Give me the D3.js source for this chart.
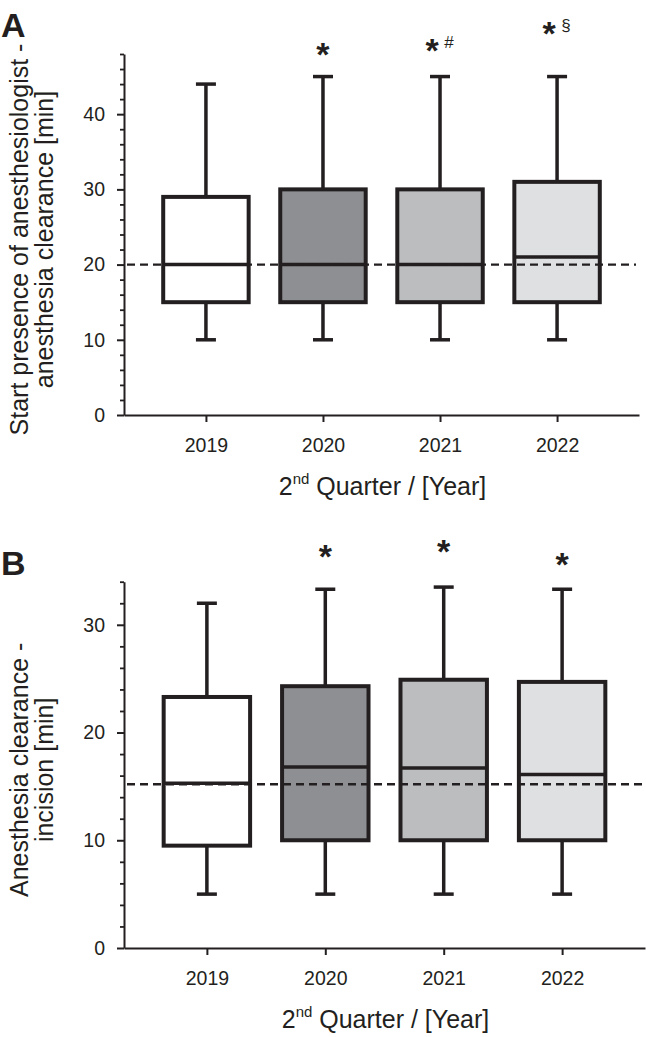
<!DOCTYPE html>
<html>
<head>
<meta charset="utf-8">
<script src="https://cdn.jsdelivr.net/npm/d3@7"></script>
<style>
  html, body { margin: 0; padding: 0; background: #ffffff; }
  svg { display: block; font-family: "Liberation Sans", Arial, Helvetica, sans-serif; }
</style>
</head>
<body>
<svg id="chart" width="646" height="1037"></svg>
<script>
// ---------- data ----------
const years = ["2019", "2020", "2021", "2022"];
const boxFills = ["#ffffff", "#8e8f92", "#bcbdbf", "#dfe0e2"];

// Panel A: start presence of anesthesiologist - anesthesia clearance [min]
const aLow    = [10, 10, 10, 10];
const aQ1     = [15, 15, 15, 15];
const aMedian = [20, 20, 20, 21];
const aQ3     = [29, 30, 30, 31];
const aHigh   = [44, 45, 45, 45];
const aRef    = 20;
const aStars  = ["", "*", "*", "*"];
const aExtra  = ["", "", "#", "§"];
const aStarY  = [null, 48.9, 49.5, 51.7];
const aTicks  = [0, 10, 20, 30, 40];
const aMax    = 48;

// Panel B: anesthesia clearance - incision [min]
const bLow    = [5, 5, 5, 5];
const bQ1     = [9.5, 10, 10, 10];
const bMedian = [15.3, 16.8, 16.7, 16.1];
const bQ3     = [23.3, 24.3, 24.9, 24.7];
const bHigh   = [32, 33.3, 33.5, 33.3];
const bRef    = 15.2;
const bStars  = ["", "*", "*", "*"];
const bExtra  = ["", "", "", ""];
const bStarY  = [null, 37.0, 37.5, 36.3];
const bTicks  = [0, 10, 20, 30];
const bMax    = 34;

const ink = "#231f20";
const svg = d3.select("#chart");

function panel(cfg) {
  const g = svg.append("g");
  const y = d3.scaleLinear().domain([0, cfg.max]).range([cfg.y0, cfg.y1]);
  const x = d3.scalePoint().domain(years).range([cfg.x0, cfg.x1]).padding(0.7);
  const step = x.step();
  const bw = step * 0.73;
  const capW = 20;

  const rows = years.map((yr, i) => ({
    yr, i, low: cfg.low[i], q1: cfg.q1[i], med: cfg.med[i], q3: cfg.q3[i], high: cfg.high[i],
    fill: boxFills[i], star: cfg.stars[i], extra: cfg.extra[i], starY: cfg.starY[i]
  }));

  // whiskers
  const wg = g.append("g").attr("stroke", ink).attr("stroke-width", 3.5);
  wg.selectAll("line.up").data(rows).join("line").attr("class", "up")
    .attr("x1", d => x(d.yr)).attr("x2", d => x(d.yr))
    .attr("y1", d => y(d.q3)).attr("y2", d => y(d.high));
  wg.selectAll("line.down").data(rows).join("line").attr("class", "down")
    .attr("x1", d => x(d.yr)).attr("x2", d => x(d.yr))
    .attr("y1", d => y(d.q1)).attr("y2", d => y(d.low));
  wg.selectAll("line.capu").data(rows).join("line").attr("class", "capu")
    .attr("x1", d => x(d.yr) - capW / 2).attr("x2", d => x(d.yr) + capW / 2)
    .attr("y1", d => y(d.high)).attr("y2", d => y(d.high));
  wg.selectAll("line.capd").data(rows).join("line").attr("class", "capd")
    .attr("x1", d => x(d.yr) - capW / 2).attr("x2", d => x(d.yr) + capW / 2)
    .attr("y1", d => y(d.low)).attr("y2", d => y(d.low));

  // boxes
  g.append("g").selectAll("rect").data(rows).join("rect")
    .attr("x", d => x(d.yr) - bw / 2).attr("width", bw)
    .attr("y", d => y(d.q3)).attr("height", d => y(d.q1) - y(d.q3))
    .attr("fill", d => d.fill).attr("stroke", ink).attr("stroke-width", 4);

  // medians
  g.append("g").selectAll("line").data(rows).join("line")
    .attr("x1", d => x(d.yr) - bw / 2).attr("x2", d => x(d.yr) + bw / 2)
    .attr("y1", d => y(d.med)).attr("y2", d => y(d.med))
    .attr("stroke", ink).attr("stroke-width", 3.5);

  // dashed reference line
  g.append("line")
    .attr("x1", cfg.x0 + 3).attr("x2", cfg.dashEnd)
    .attr("y1", y(cfg.ref)).attr("y2", y(cfg.ref))
    .attr("stroke", ink).attr("stroke-width", 2.3).attr("stroke-dasharray", "8,5");

  // y axis: minor ticks
  const minor = d3.range(0, cfg.max + 0.001, 2).filter(v => v % 10 !== 0);
  g.append("g").attr("transform", `translate(${cfg.x0},0)`)
    .call(d3.axisLeft(y).tickValues(minor).tickSize(4).tickFormat(""))
    .call(s => s.select(".domain").remove())
    .call(s => s.selectAll("line").attr("stroke", ink).attr("stroke-width", 1.8));
  // y axis: major ticks
  const ya = g.append("g").attr("transform", `translate(${cfg.x0},0)`)
    .call(d3.axisLeft(y).tickValues(cfg.ticks).tickSize(7).tickPadding(12).tickSizeOuter(0));
  ya.select(".domain").attr("stroke", ink).attr("stroke-width", 2);
  ya.selectAll("line").attr("stroke", ink).attr("stroke-width", 2);
  ya.selectAll("text").attr("font-size", 19.5).attr("fill", ink).attr("font-family", "Liberation Sans, Arial, sans-serif");

  // x axis
  const xa = g.append("g").attr("transform", `translate(0,${cfg.y0})`)
    .call(d3.axisBottom(x).tickSize(7).tickPadding(16).tickSizeOuter(0));
  xa.select(".domain").attr("stroke", ink).attr("stroke-width", 2);
  xa.selectAll("line").attr("stroke", ink).attr("stroke-width", 2);
  xa.selectAll("text").attr("font-size", 19.5).attr("fill", ink).attr("font-family", "Liberation Sans, Arial, sans-serif");

  // x axis title
  const xt = g.append("text")
    .attr("x", (cfg.x0 + cfg.x1) / 2 + 1).attr("y", cfg.y0 + 80)
    .attr("text-anchor", "middle").attr("font-size", 25).attr("fill", ink);
  xt.append("tspan").text("2");
  xt.append("tspan").attr("font-size", 15).attr("dy", -11).text("nd");
  xt.append("tspan").attr("dy", 11).text(" Quarter / [Year]");

  // y axis title (two lines)
  const cy = (cfg.y0 + cfg.y1) / 2 + 5;
  cfg.ylab.forEach((t, k) => {
    g.append("text")
      .attr("transform", `translate(${28 + k * 25},${cy}) rotate(-90)`)
      .attr("text-anchor", "middle").attr("font-size", 25).attr("fill", ink)
      .text(t);
  });

  // panel letter
  g.append("text").attr("x", 1).attr("y", cfg.letterY)
    .attr("font-size", 34).attr("font-weight", "bold").attr("fill", ink)
    .text(cfg.letter);

  // significance marks
  rows.filter(d => d.star).forEach(d => {
    const cx = x(d.yr);
    const sy = y(d.starY);
    const starX = d.extra ? cx - 8 : cx;
    g.append("text").attr("x", starX).attr("y", sy + 19)
      .attr("text-anchor", "middle").attr("font-size", 34).attr("font-weight", "bold")
      .attr("fill", ink).text(d.star);
    if (d.extra) {
      g.append("text").attr("x", cx + 9).attr("y", sy + 5)
        .attr("text-anchor", "middle").attr("font-size", 17)
        .attr("fill", ink).text(d.extra);
    }
  });
}

panel({
  low: aLow, q1: aQ1, med: aMedian, q3: aQ3, high: aHigh, ref: aRef,
  stars: aStars, extra: aExtra, starY: aStarY, ticks: aTicks, max: aMax,
  y0: 415, y1: 54, x0: 124, x1: 639, dashEnd: 636,
  ylab: ["Start presence of anesthesiologist -", "anesthesia clearance [min]"],
  letter: "A", letterY: 37
});

panel({
  low: bLow, q1: bQ1, med: bMedian, q3: bQ3, high: bHigh, ref: bRef,
  stars: bStars, extra: bExtra, starY: bStarY, ticks: bTicks, max: bMax,
  y0: 948, y1: 581.7, x0: 124, x1: 645, dashEnd: 644,
  ylab: ["Anesthesia clearance -", "incision [min]"],
  letter: "B", letterY: 575
});
</script>
</body>
</html>
